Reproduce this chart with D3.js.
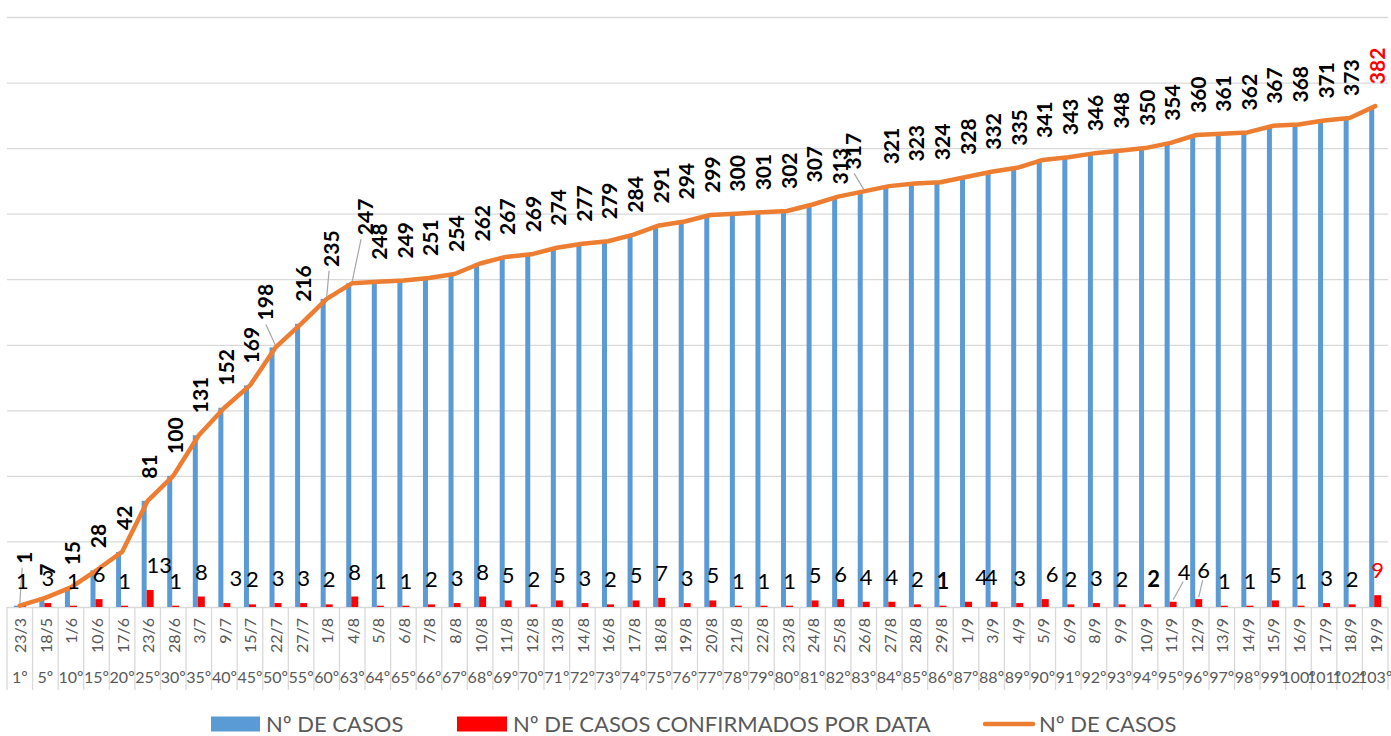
<!DOCTYPE html>
<html>
<head>
<meta charset="utf-8">
<script src="https://cdn.jsdelivr.net/npm/d3@7"></script>
<style>
  body { margin: 0; background: #fff; }
  svg { display: block; font-family: Lato, "Open Sans", sans-serif; }
</style>
</head>
<body>
<div id="chart"></div>
<script>
// data
var dates = ["23/3","18/5","1/6","10/6","17/6","23/6","28/6","3/7","9/7","15/7","22/7","27/7","1/8","4/8",
  "5/8","6/8","7/8","8/8","10/8","11/8","12/8","13/8","14/8","16/8","17/8","18/8","19/8","20/8","21/8",
  "22/8","23/8","24/8","25/8","26/8","27/8","28/8","29/8","1/9","3/9","4/9","5/9","6/9","8/9","9/9",
  "10/9","11/9","12/9","13/9","14/9","15/9","16/9","17/9","18/9","19/9"];

var dayNumbers = ["1º","5º","10º","15º","20º","25º","30º","35º","40º","45º","50º","55º","60º","63º",
  "64º","65º","66º","67º","68º","69º","70º","71º","72º","73º","74º","75º","76º","77º","78º","79º",
  "80º","81º","82º","83º","84º","85º","86º","87º","88º","89º","90º","91º","92º","93º","94º","95º",
  "96º","97º","98º","99º","100º","101º","102º","103º"];

var totalCases = [1,7,15,28,42,81,100,131,152,169,198,216,235,247,248,249,251,254,262,267,269,274,277,
  279,284,291,294,299,300,301,302,307,313,317,321,323,324,328,332,335,341,343,346,348,350,354,360,361,
  362,367,368,371,373,382];

var newCases = [1,3,1,6,1,13,1,8,3,2,3,3,2,8,1,1,2,3,8,5,2,5,3,2,5,7,3,5,1,1,1,5,6,4,4,2,1,4,4,3,6,2,
  3,2,2,4,6,1,1,5,1,3,2,9];

var yTicks = [0,50,100,150,200,250,300,350,400,450];

// label nudges that the original chart had (dx, gap above the point, leader line)
var totalNudge = {
  0: {dx: 3, gap: 42, leader: true},
  10: {dx: -12, gap: 27, leader: true},
  12: {dx: 3, gap: 32, leader: true},
  13: {dx: 11, gap: 48, leader: true},
  32: {dx: 0, gap: 12},
  33: {dx: -12, gap: 22, leader: true}
};
var newNudge = {
  5: {dx: 9}, 8: {dx: 9}, 37: {dx: 13}, 38: {dx: -3}, 40: {dx: 7},
  44: {dx: 6}, 45: {dx: 11, dy: -5, leader: true}, 46: {dx: 5, dy: -4, leader: true}
};

var svgWidth = 1391;
var svgHeight = 736;
var plotLeft = 7, plotRight = 1388, plotTop = 17, plotBottom = 607;

var svg = d3.select("#chart")
  .append("svg")
  .attr("width", svgWidth)
  .attr("height", svgHeight);

var xScale = d3.scaleBand()
  .domain(d3.range(dates.length))
  .range([plotLeft, plotRight]);

var yScale = d3.scaleLinear()
  .domain([0, 450])
  .range([plotBottom, plotTop]);

var bw = xScale.bandwidth();
function cx(i) { return xScale(i) + bw / 2; }

// gridlines
var grid = svg.append("g")
  .attr("transform", `translate(${plotLeft}, 0)`)
  .call(d3.axisLeft(yScale).tickValues(yTicks).tickSize(-(plotRight - plotLeft)).tickFormat(""));
grid.select(".domain").remove();
grid.selectAll("line").attr("stroke", "#d9d9d9").attr("stroke-width", 1.3);

// category cell borders
var bounds = d3.range(dates.length).map(function(i) { return xScale(i); }).concat([plotRight]);
svg.append("g").selectAll("line")
  .data(bounds)
  .enter()
  .append("line")
  .attr("x1", d => d).attr("x2", d => d)
  .attr("y1", plotBottom).attr("y2", 690)
  .attr("stroke", "#d9d9d9")
  .attr("stroke-width", 1.3);

// date labels (rotated) and day numbers
svg.append("g").selectAll("text")
  .data(dates)
  .enter()
  .append("text")
  .attr("transform", (d, i) => `translate(${cx(i)}, 618) rotate(-90)`)
  .attr("text-anchor", "end")
  .attr("dominant-baseline", "central")
  .style("font-size", "16px")
  .attr("fill", "#595959")
  .text(d => d);

svg.append("g").selectAll("text")
  .data(dayNumbers)
  .enter()
  .append("text")
  .attr("x", (d, i) => cx(i))
  .attr("y", 683)
  .attr("text-anchor", "middle")
  .style("font-size", "16px")
  .attr("fill", "#595959")
  .text(d => d);

// blue bars (total)
svg.append("g").selectAll("rect")
  .data(totalCases)
  .enter()
  .append("rect")
  .attr("x", (d, i) => cx(i) - 6)
  .attr("width", 5)
  .attr("y", d => yScale(d))
  .attr("height", d => yScale(0) - yScale(d))
  .attr("fill", "#5b9bd5");

// red bars (new cases)
svg.append("g").selectAll("rect")
  .data(newCases)
  .enter()
  .append("rect")
  .attr("x", (d, i) => cx(i) - 1)
  .attr("width", 7)
  .attr("y", d => yScale(d))
  .attr("height", d => yScale(0) - yScale(d))
  .attr("fill", "#ff0000");

// orange line
var line = d3.line()
  .x((d, i) => cx(i))
  .y(d => yScale(d));

svg.append("path")
  .datum(totalCases)
  .attr("d", line)
  .attr("fill", "none")
  .attr("stroke", "#ed7d31")
  .attr("stroke-width", 4.5)
  .attr("stroke-linejoin", "round")
  .attr("stroke-linecap", "round");

// leader lines
var leaders = svg.append("g").attr("stroke", "#a6a6a6").attr("stroke-width", 1.2);
totalCases.forEach(function(d, i) {
  var n = totalNudge[i];
  if (n && n.leader) {
    leaders.append("line")
      .attr("x1", cx(i)).attr("y1", yScale(d) - 2)
      .attr("x2", cx(i) + n.dx * 0.8).attr("y2", yScale(d) - n.gap + 4);
  }
});
newCases.forEach(function(d, i) {
  var n = newNudge[i];
  if (n && n.leader) {
    leaders.append("line")
      .attr("x1", cx(i) + 2.5).attr("y1", yScale(d) - 2)
      .attr("x2", cx(i) + 2.5 + n.dx - 1).attr("y2", yScale(d) - 15 + (n.dy || 0));
  }
});

// total labels (rotated, bold)
svg.append("g").selectAll("text")
  .data(totalCases)
  .enter()
  .append("text")
  .attr("transform", function(d, i) {
    var n = totalNudge[i] || {dx: 0, gap: 22};
    return `translate(${cx(i) + 1 + n.dx}, ${yScale(d) - n.gap}) rotate(-90)`;
  })
  .attr("text-anchor", "start")
  .attr("dominant-baseline", "central")
  .style("font-size", "21px")
  .style("font-weight", "bold")
  .attr("fill", (d, i) => i === totalCases.length - 1 ? "#ff0000" : "#000")
  .text(d => d);

// new cases labels
svg.append("g").selectAll("text")
  .data(newCases)
  .enter()
  .append("text")
  .attr("x", function(d, i) {
    var n = newNudge[i] || {dx: 0};
    return cx(i) + 2.5 + n.dx;
  })
  .attr("y", function(d, i) {
    var n = newNudge[i] || {};
    return yScale(d) - 17 + (n.dy || 0);
  })
  .attr("text-anchor", "middle")
  .style("font-size", "22px")
  .style("font-weight", (d, i) => (i === 36 || i === 44) ? "bold" : "normal")
  .attr("fill", (d, i) => i === newCases.length - 1 ? "#ff0000" : "#000")
  .text(d => d);

// legend
var legend = svg.append("g").style("font-size", "22px").attr("fill", "#595959");
legend.append("rect").attr("x", 211).attr("y", 716.5).attr("width", 49).attr("height", 15).attr("fill", "#5b9bd5");
legend.append("text").attr("x", 266).attr("y", 731.5).text("Nº DE CASOS");
legend.append("rect").attr("x", 457).attr("y", 716.5).attr("width", 50).attr("height", 15).attr("fill", "#ff0000");
legend.append("text").attr("x", 513).attr("y", 731.5).text("Nº DE CASOS CONFIRMADOS POR DATA");
legend.append("line").attr("x1", 985).attr("x2", 1033).attr("y1", 724).attr("y2", 724)
  .attr("stroke", "#ed7d31").attr("stroke-width", 4.5).attr("stroke-linecap", "round");
legend.append("text").attr("x", 1039).attr("y", 731.5).text("Nº DE CASOS");
</script>
</body>
</html>
